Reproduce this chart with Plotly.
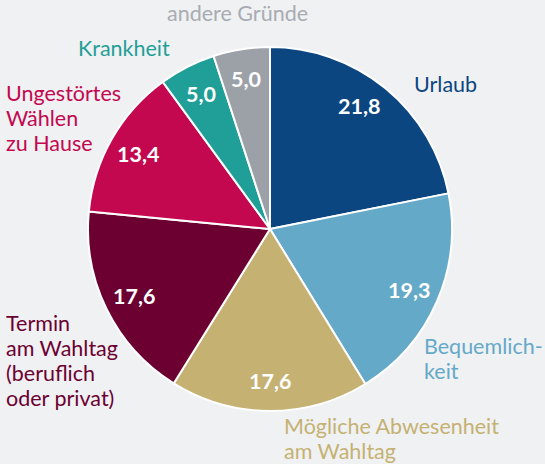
import math
import plotly.graph_objects as go

categories = ["Urlaub", "Bequemlichkeit", "Mögliche Abwesenheit am Wahltag",
              "Termin am Wahltag (beruflich oder privat)", "Ungestörtes Wählen zu Hause",
              "Krankheit", "andere Gründe"]
values = [21.8, 19.3, 17.6, 17.6, 13.4, 5.0, 5.0]
colors = ["#0b4681", "#65a9c8", "#c5b172", "#6c0031", "#c3084f", "#1f9f97", "#9ca1a8"]
label_colors = ["#0b4681", "#65a9c8", "#c5b172", "#6c0031", "#c3084f", "#1f9f97", "#a8acb2"]
label_lines = [["Urlaub"], ["Bequemlich-", "keit"], ["Mögliche Abwesenheit", "am Wahltag"],
               ["Termin", "am Wahltag", "(beruflich", "oder privat)"],
               ["Ungestörtes", "Wählen", "zu Hause"], ["Krankheit"], ["andere Gründe"]]
# label layout: x (px), baseline of first line (px), xanchor
label_pos = [(412, 92, "left"), (422, 354, "left"), (282, 434, "left"),
             (4, 331, "left"), (4, 101, "left"), (76, 56, "left"), (237, 21, "center")]
# small angular nudges (degrees) for the value labels
value_nudge = [-3.5, 0, 0, 0, 0, 0, 0]

W, H = 545, 464
cx, cy, R = 270, 229, 182
FS = 21.5
LINE = 25

fig = go.Figure(go.Pie(
    labels=categories, values=values, sort=False, direction="clockwise", rotation=0,
    marker=dict(colors=colors, line=dict(color="white", width=2)),
    textinfo="none", hoverinfo="label+value", showlegend=False,
    domain=dict(x=[(cx - R) / W, (cx + R) / W], y=[1 - (cy + R) / H, 1 - (cy - R) / H]),
))

total = sum(values)
cum = 0
annotations = []
for v, nd in zip(values, value_nudge):
    mid = (cum + v / 2) / total * 2 * math.pi + math.radians(nd)
    cum += v
    px = cx + 0.835 * R * math.sin(mid)
    py = cy - 0.835 * R * math.cos(mid)
    annotations.append(dict(
        x=px / W, y=1 - py / H, xref="paper", yref="paper",
        text="<b>" + f"{v:.1f}".replace(".", ",") + "</b>", showarrow=False,
        font=dict(family="Lato", size=21.5, color="white"), xanchor="center", yanchor="middle"))

for lines, col, (lx, base, xa) in zip(label_lines, label_colors, label_pos):
    for i, ln in enumerate(lines):
        yc = base + i * LINE - 8
        annotations.append(dict(
            x=lx / W, y=1 - yc / H, xref="paper", yref="paper", text=ln,
            showarrow=False, font=dict(family="Lato", size=FS, color=col),
            xanchor=xa, yanchor="middle"))

fig.update_layout(
    width=W, height=H, margin=dict(l=0, r=0, t=0, b=0),
    paper_bgcolor="#f0f1f3", plot_bgcolor="#f0f1f3",
    annotations=annotations,
)
fig.write_html("out.html")
